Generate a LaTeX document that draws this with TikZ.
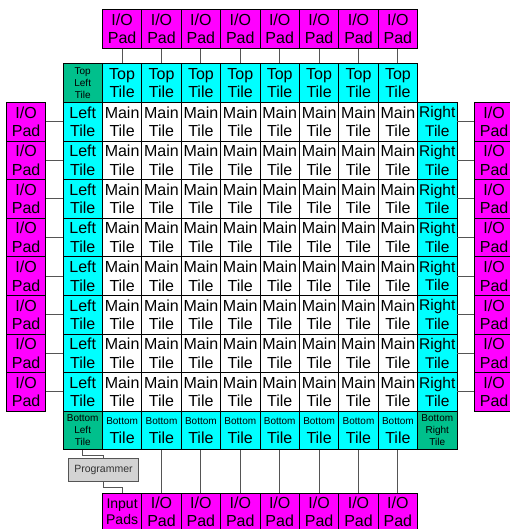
\documentclass[tikz,border=0pt]{standalone}
\usepackage{fontspec}
\setmainfont{Liberation Sans}
\definecolor{padmag}{RGB}{255,0,255}
\definecolor{tilecyan}{RGB}{0,255,255}
\definecolor{cornergreen}{RGB}{0,192,140}
\definecolor{wiregray}{RGB}{85,85,85}
\definecolor{progfill}{RGB}{211,211,211}
\definecolor{progtext}{RGB}{50,50,50}
\tikzset{
  cell/.style={draw=black, line width=0.8pt, minimum width=39.4pt, minimum height=38.6pt,
    inner sep=0pt, anchor=north west, align=center, font=\fontsize{16}{18.5}\selectfont},
  padbox/.style={cell, fill=padmag, minimum height=39pt},
  maintile/.style={cell, fill=white},
  edgetile/.style={cell, fill=tilecyan},
  cornertile/.style={cell, fill=cornergreen, font=\fontsize{10}{12}\selectfont},
  wire/.style={draw=wiregray, line width=0.9pt},
  progbox/.style={draw=wiregray, line width=0.9pt, fill=progfill, minimum width=70pt,
    minimum height=23pt, inner sep=0pt, anchor=north west, text=progtext,
    font=\fontsize{10.5}{12}\selectfont}
}
\begin{document}
\begin{tikzpicture}[x=1pt,y=-1pt]
\useasboundingbox (0,0) rectangle (509,529);
% corners
\node[cornertile] (tl) at (62.6,63.4) {Top\\Left\\Tile};
\node[cornertile] (bl) at (62.6,410.8) {Bottom\\Left\\Tile};
\node[cornertile] (br) at (417.2,410.8) {Bottom\\Right\\Tile};
% columns
\foreach \c in {1,...,8} {
  \pgfmathsetmacro\xx{102+39.4*(\c-1)}
  \node[padbox] (tp\c) at (\xx,9) {I/O\\Pad};
  \node[edgetile] (tt\c) at (\xx,63.4) {Top\\Tile};
  \node[edgetile] (bt\c) at (\xx,410.8) {{\fontsize{10}{12}\selectfont Bottom}\\Tile};
  \draw[wire] (tp\c.south) -- (tt\c.north);
}
\foreach \c in {2,...,8} {
  \pgfmathsetmacro\xx{102+39.4*(\c-1)}
  \node[padbox, minimum height=36.6pt] (bp\c) at (\xx,493) {I/O\\Pad};
  \draw[wire] (bt\c.south) -- (bp\c.north);
}
\node[padbox, minimum height=36.6pt, font=\fontsize{14}{16}\selectfont] (bp1) at (102,493) {Input\\Pads};
% rows
\foreach \r in {1,...,8} {
  \pgfmathsetmacro\yy{102+38.6*(\r-1)}
  \node[edgetile] (lt\r) at (62.6,\yy) {Left\\Tile};
  \node[edgetile, font=\fontsize{15.5}{18.5}\selectfont] (rt\r) at (417.2,\yy) {Right\\Tile};
  \node[padbox, minimum height=38.6pt] (lp\r) at (6,\yy) {I/O\\Pad};
  \node[padbox, minimum height=38.6pt] (rp\r) at (474,\yy) {I/O\\Pad};
  \draw[wire] (lp\r.east) -- (lt\r.west);
  \draw[wire] (rt\r.east) -- (rp\r.west);
  \foreach \c in {1,...,8} {
    \pgfmathsetmacro\xx{102+39.4*(\c-1)}
    \node[maintile] (m\r-\c) at (\xx,\yy) {Main\\Tile};
  }
}
% programmer
\node[progbox] (prog) at (68,458) {Programmer};
\draw[wire] (bl.south) -- ++(0,5) -| (prog.north);
\draw[wire] (prog.south) -- ++(0,6) -| (bp1.north);
\end{tikzpicture}
\end{document}
